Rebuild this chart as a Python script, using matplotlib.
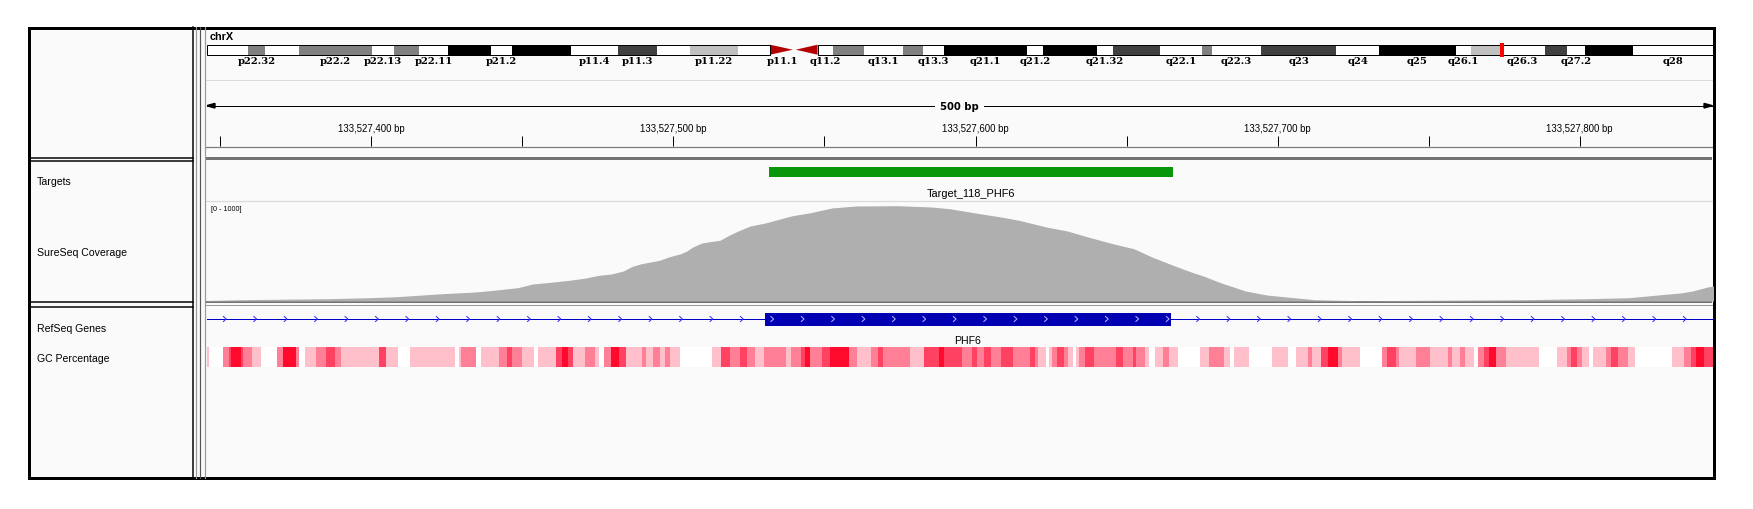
import matplotlib
matplotlib.use('Agg')
import matplotlib.pyplot as plt
from matplotlib.patches import Rectangle, Polygon
import numpy as np

W, H = 1753, 510

# ---------------- data ----------------
# chrX cytobands (hg19, Mb)
chrom_len = 155.27
band_names = ['p22.33', 'p22.32', 'p22.31', 'p22.2', 'p22.13', 'p22.12', 'p22.11', 'p21.3',
              'p21.2', 'p21.1', 'p11.4', 'p11.3', 'p11.23', 'p11.22', 'p11.21', 'p11.1',
              'q11.1', 'q11.2', 'q12', 'q13.1', 'q13.2', 'q13.3', 'q21.1', 'q21.2',
              'q21.31', 'q21.32', 'q21.33', 'q22.1', 'q22.2', 'q22.3', 'q23', 'q24',
              'q25', 'q26.1', 'q26.2', 'q26.3', 'q27.1', 'q27.2', 'q27.3', 'q28']
band_start = [0, 4.3, 6.0, 9.5, 17.1, 19.3, 21.9, 24.9, 29.3, 31.5, 37.6, 42.4, 46.4, 49.8,
              54.8, 58.1, 60.6, 63.0, 64.6, 67.8, 71.8, 73.9, 76.0, 84.6, 86.2, 91.8, 93.5,
              98.3, 102.6, 103.7, 108.7, 116.5, 120.9, 128.8, 130.4, 133.4, 138.0, 140.3,
              142.1, 147.1]
band_end = band_start[1:] + [chrom_len]
band_stain = ['gneg', 'gpos50', 'gneg', 'gpos50', 'gneg', 'gpos50', 'gneg', 'gpos100',
              'gneg', 'gpos100', 'gneg', 'gpos75', 'gneg', 'gpos25', 'gneg', 'acen',
              'acen', 'gneg', 'gpos50', 'gneg', 'gpos50', 'gneg', 'gpos100', 'gneg',
              'gpos100', 'gneg', 'gpos75', 'gneg', 'gpos50', 'gneg', 'gpos75', 'gneg',
              'gpos100', 'gneg', 'gpos25', 'gneg', 'gpos75', 'gneg', 'gpos100', 'gneg']
shown_labels = ['p22.32', 'p22.2', 'p22.13', 'p22.11', 'p21.2', 'p11.4', 'p11.3', 'p11.22',
                'p11.1', 'q11.2', 'q13.1', 'q13.3', 'q21.1', 'q21.2', 'q21.32', 'q22.1',
                'q22.3', 'q23', 'q24', 'q25', 'q26.1', 'q26.3', 'q27.2', 'q28']
stain_color = {'gneg': '#ffffff', 'gpos25': '#c0c0c0', 'gpos50': '#808080',
               'gpos75': '#404040', 'gpos100': '#000000', 'acen': '#b40000'}

region_start = 133527345.4
region_end = 133527844.0
span_label = '500 bp'
tick_pos = [133527350, 133527400, 133527450, 133527500, 133527550, 133527600,
            133527650, 133527700, 133527750, 133527800]
label_pos = [133527400, 133527500, 133527600, 133527700, 133527800]
tick_labels = ['133,527,400 bp', '133,527,500 bp', '133,527,600 bp',
               '133,527,700 bp', '133,527,800 bp']

target_start, target_end = 133527531.5, 133527665.3
target_name = 'Target_118_PHF6'
gene_start, gene_end = 133527530.2, 133527664.6
gene_name = 'PHF6'

# coverage (bp offset from region_start, depth), data range 0-1000
cov_offset = [0, 11, 40, 54, 63, 70, 78, 89, 95, 103, 108, 114, 120, 125, 130, 134, 138,
              141, 144, 150, 153, 157, 159, 161, 164, 167, 170, 173, 176, 180, 185, 189,
              194, 200, 207, 215, 229, 240, 246, 254, 263, 269, 278, 285, 291, 300, 307,
              313, 320, 326, 330, 333, 336, 340, 344, 351, 360, 367, 382, 436, 457, 471,
              477, 483, 488, 492, 497, 499]
cov_value = [5, 13, 23, 33, 43, 57, 73, 90, 107, 133, 170, 187, 207, 227, 257, 270, 300,
             347, 373, 407, 440, 473, 500, 540, 580, 595, 607, 657, 700, 750, 780, 813,
             853, 883, 930, 950, 953, 940, 923, 883, 840, 807, 740, 700, 647, 573, 523,
             440, 357, 290, 250, 215, 180, 140, 100, 60, 33, 13, 3, 13, 23, 33,
             50, 67, 80, 100, 140, 150]

# GC percentage segments (bp offset of segment start, shade level 0-4)
gc_start = [0, 0.9, 5.4, 7.3, 8.1, 11.3, 12.1, 15.0, 18.2, 23.4, 25.3, 29.5, 30.6, 32.5,
            36.2, 39.4, 42.6, 44.6, 57.1, 59.5, 63.5, 67.5, 82.4, 83.5, 84.4, 89.2, 90.8,
            96.9, 99.6, 101.2, 104.4, 108.4, 109.6, 115.7, 117.7, 119.7, 121.3, 125.3,
            128.5, 130.1, 131.7, 133.8, 136.5, 138.9, 144.1, 145.4, 147.8, 150.2, 151.8,
            153.4, 156.6, 167.5, 170.2, 173.4, 176.6, 179.1, 181.5, 184.7, 191.9, 193.5,
            196.7, 198.3, 199.9, 203.9, 206.3, 212.8, 215.2, 220.0, 222.4, 224.0, 232.8,
            237.6, 242.5, 244.1, 250.1, 253.4, 255.0, 257.4, 259.8, 263.0, 267.1, 272.7,
            274.4, 275.2, 278.1, 278.9, 280.0, 281.6, 284.0, 285.2, 287.0, 287.8, 288.9,
            291.0, 293.7, 301.0, 303.4, 306.7, 307.8, 310.7, 312.0, 313.9, 316.8, 318.8,
            321.7, 328.8, 332.0, 336.9, 339.0, 340.1, 345.1, 352.7, 358.0, 360.8, 364.8,
            366.0, 368.9, 371.3, 374.5, 376.1, 381.8, 389.1, 390.7, 393.9, 394.7, 400.4,
            405.2, 410.9, 412.5, 414.9, 416.5, 419.7, 420.9, 423.0, 424.6, 427.0, 430.3,
            441.2, 447.2, 450.4, 451.6, 453.7, 455.3, 457.7, 458.9, 463.4, 465.0, 467.4,
            470.6, 473.1, 485.2, 489.2, 491.6, 493.3, 495.7]
gc_level = [1, 0, 2, 3, 4, 3, 2, 1, 0, 2, 4, 2, 0, 1,
            2, 3, 2, 1, 3, 1, 0, 1, 0, 1, 2, 0, 1,
            2, 3, 2, 1, 0, 1, 3, 4, 3, 1, 2,
            1, 0, 2, 4, 3, 1, 2, 1, 2, 1, 2,
            1, 0, 1, 3, 2, 3, 2, 1, 2, 1, 2,
            3, 4, 2, 3, 4, 2, 1, 2, 3, 2, 1,
            3, 4, 3, 2, 3, 2, 3, 2, 3, 2, 3,
            2, 1, 0, 1, 2, 3, 2, 1, 0, 1, 2,
            3, 2, 3, 2, 3, 2, 1, 0, 1, 2, 1,
            0, 1, 2, 1, 0, 1, 0, 1, 0, 1, 2,
            1, 3, 4, 2, 1, 0, 2, 3, 2, 1, 2,
            1, 2, 1, 2, 1, 0, 2, 3, 4, 2, 1,
            0, 1, 2, 3, 2, 1, 0, 1, 2, 3, 2,
            1, 0, 1, 2, 3, 4, 3]
gc_end_offset = 498.6
gc_colors = ['#ffffff', '#ffc0cb', '#ff8096', '#ff4262', '#ff0a2c']

track_names = ['Targets', 'SureSeq Coverage', 'RefSeq Genes', 'GC Percentage']
track_name_y = [182, 253, 329, 359]

# ---------------- figure ----------------
BG = '#fafafa'
fig = plt.figure(figsize=(W / 100, H / 100), dpi=100)
frame = fig.add_axes([0, 0, 1, 1])
frame.set_xlim(0, W)
frame.set_ylim(H, 0)
frame.axis('off')

PX = 0.72  # points per pixel


def px_axes(x0, y0, x1, y1):
    a = fig.add_axes([x0 / W, 1 - y1 / H, (x1 - x0) / W, (y1 - y0) / H])
    a.axis('off')
    return a


DX0, DX1 = 206.5, 1712.5

# panel background and borders
frame.add_patch(Rectangle((30, 28.5), 1684, 450, facecolor=BG, edgecolor='none'))
for y in [158.5, 161.5, 302.5, 307.5]:
    frame.plot([30, 193.5], [y, y], color='black', lw=1.5 * PX)
frame.plot([193.5, 193.5], [28, 479], color='black', lw=1.5 * PX)
for x, c in [(196, '#999999'), (200, '#555555'), (205, '#999999')]:
    frame.plot([x, x], [28, 479], color=c, lw=1.2 * PX)
frame.add_patch(Rectangle((DX0, 158), DX1 - DX0, 3, facecolor='#737373', edgecolor='none'))
frame.add_patch(Rectangle((DX0, 302), DX1 - DX0, 2.2, facecolor='#737373', edgecolor='none'))
frame.plot([DX0, DX1], [306.3, 306.3], color='#9a9a9a', lw=1 * PX)
frame.plot([DX0, DX1], [147.7, 147.7], color='#7a7a7a', lw=1.2 * PX)
frame.plot([DX0, DX1], [81, 81], color='#dadada', lw=1 * PX)
frame.plot([DX0, DX1], [201.7, 201.7], color='#dadada', lw=1.2 * PX)
frame.add_patch(Rectangle((29.5, 28.5), 1685, 450, facecolor='none', edgecolor='black', lw=3 * PX))

name_font = dict(family='Liberation Sans', fontsize=7.6, color='black', va='center', ha='left')
for name, y in zip(track_names, track_name_y):
    frame.text(37, y, name, **name_font)
frame.text(210, 37.5, 'chrX', family='Liberation Sans', fontsize=7.8, fontweight='bold',
           va='center', ha='left')
frame.text(211, 209.5, '[0 - 1000]', family='Liberation Sans', fontsize=5.2, va='center',
           ha='left')

# ideogram
ideo = px_axes(DX0, 40, DX1, 68)
ideo.set_xlim(0, chrom_len)
ideo.set_ylim(68, 40)
y0, y1 = 45.7, 55.7
for name, s, e, st in zip(band_names, band_start, band_end, band_stain):
    if st == 'acen':
        continue
    ideo.add_patch(Rectangle((s, y0), e - s, y1 - y0, facecolor=stain_color[st],
                             edgecolor='none'))
acen = [i for i, st in enumerate(band_stain) if st == 'acen']
p_cen, q_cen = acen[0], acen[1]
mid = band_end[p_cen]
ideo.add_patch(Polygon([(band_start[p_cen], y0), (band_start[p_cen], y1), (mid - 0.15, 50.7)],
                       closed=True, facecolor=stain_color['acen'], edgecolor='none'))
ideo.add_patch(Polygon([(band_end[q_cen], y0), (band_end[q_cen], y1), (mid + 0.15, 50.7)],
                       closed=True, facecolor=stain_color['acen'], edgecolor='none'))
ideo.add_patch(Rectangle((0, y0), band_start[p_cen], y1 - y0, facecolor='none',
                         edgecolor='black', lw=1 * PX))
ideo.add_patch(Rectangle((band_end[q_cen], y0), chrom_len - band_end[q_cen], y1 - y0,
                         facecolor='none', edgecolor='black', lw=1 * PX))
# current location marker
loc_mb = (region_start + region_end) / 2 / 1e6
ideo.add_patch(Rectangle((loc_mb - 0.2, 43.5), 0.4, 14.5, facecolor='#ff0000', edgecolor='none'))
for name, s, e in zip(band_names, band_start, band_end):
    if name in shown_labels:
        ideo.text((s + e) / 2, 62, name, family='DejaVu Serif', fontsize=7.2,
                  fontweight='bold', ha='center', va='center')

# ruler
ruler = px_axes(DX0, 95, DX1, 158)
ruler.set_xlim(region_start, region_end)
ruler.set_ylim(158, 95)
ruler.plot([region_start, region_end], [106.7, 106.7], color='black', lw=1 * PX)
ah = 2.8
ruler.add_patch(Polygon([(region_start, 106.7), (region_start + ah, 104.4),
                         (region_start + ah, 109.0)], closed=True, color='black'))
ruler.add_patch(Polygon([(region_end, 106.7), (region_end - ah, 104.4),
                         (region_end - ah, 109.0)], closed=True, color='black'))
ruler.text((region_start + region_end) / 2, 106.7, span_label, family='DejaVu Sans',
           fontsize=7.2, fontweight='bold', ha='center', va='center',
           bbox=dict(facecolor=BG, edgecolor='none', pad=4))
ruler.vlines(tick_pos, 136.7, 147, color='black', lw=1 * PX)
for p, lab in zip(label_pos, tick_labels):
    ruler.text(p, 129.5, lab, family='Liberation Sans', fontsize=6.9, ha='center',
               va='center')

# targets
trk = px_axes(DX0, 161, DX1, 202)
trk.set_xlim(region_start, region_end)
trk.set_ylim(202, 161)
trk.add_patch(Rectangle((target_start, 168), target_end - target_start, 9.7,
                        facecolor='#0a960a', edgecolor='none'))
trk.text((target_start + target_end) / 2, 194.3, target_name, family='Liberation Sans',
         fontsize=7.9, ha='center', va='center')

# coverage
cov = px_axes(DX0, 202, DX1, 302)
cov.set_xlim(region_start, region_end)
cov.set_ylim(0, 1000)
cov_x = region_start + np.array(cov_offset)
cov.fill_between(cov_x, cov_value, color='#afafaf', lw=0)

# genes and GC
low = px_axes(DX0, 307, DX1, 479)
low.set_xlim(region_start, region_end)
low.set_ylim(479, 307)
low.plot([region_start, region_end], [320, 320], color='#0000c8', lw=1 * PX)
chev = np.arange(region_start + 6.5, region_end, 10.07)
for c in chev:
    inside = gene_start < c < gene_end
    col = '#b8b8ff' if inside else '#2a2aff'
    low.plot([c - 0.9, c, c - 0.9], [317.5, 320, 322.5], color=col, lw=1 * PX,
             zorder=4 if inside else 2)
low.add_patch(Rectangle((gene_start, 313.5), gene_end - gene_start, 13.5,
                        facecolor='#0000b2', edgecolor='none', zorder=3))
low.text((gene_start + gene_end) / 2, 341, gene_name, family='Liberation Sans', fontsize=7.6,
         ha='center', va='center')
gc_ends = gc_start[1:] + [gc_end_offset]
for s, e, lv in zip(gc_start, gc_ends, gc_level):
    low.add_patch(Rectangle((region_start + s, 348.3), e - s, 20, facecolor=gc_colors[lv],
                            edgecolor='none'))

fig.savefig('out.png', dpi=100)
